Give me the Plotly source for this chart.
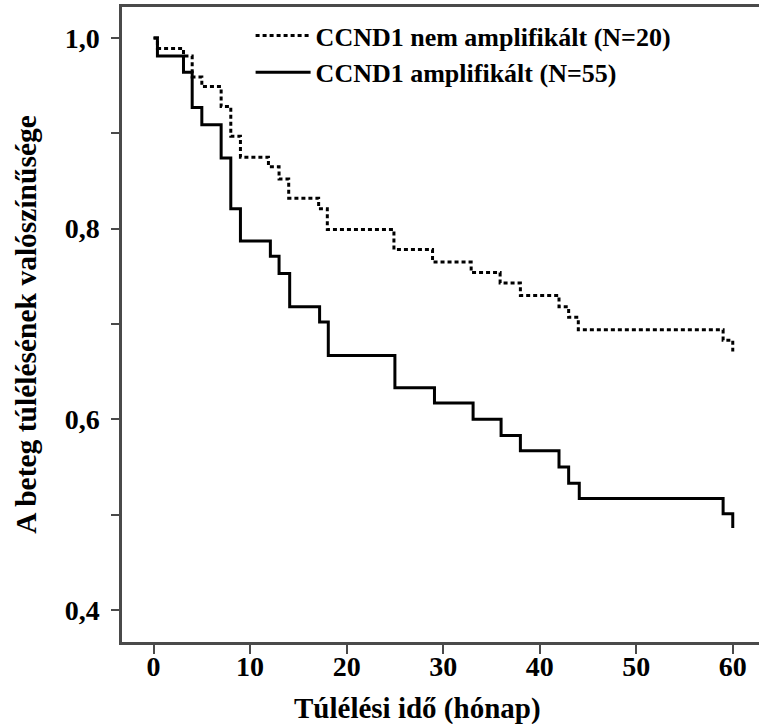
import plotly.graph_objects as go

# Kaplan-Meier steps (time in months, survival probability)
t_nem = [0, 0.4, 3.1, 4.0, 5.0, 7.0, 8.0, 9.0, 11.9, 13.0, 14.0, 17.1, 18.0, 24.9, 28.9, 32.9, 35.9, 38.0, 42.0, 43.0, 44.0, 59.0, 60.0]
s_nem = [1.0, 0.989, 0.981, 0.959, 0.949, 0.928, 0.897, 0.875, 0.865, 0.852, 0.832, 0.821, 0.799, 0.778, 0.765, 0.754, 0.743, 0.730, 0.718, 0.707, 0.694, 0.683, 0.671]

t_amp = [0, 0.4, 3.1, 4.0, 5.0, 7.0, 8.0, 9.0, 12.1, 13.0, 14.1, 17.2, 18.1, 25.0, 29.1, 33.1, 36.0, 38.0, 42.0, 43.0, 44.1, 59.0, 60.0]
s_amp = [1.0, 0.981, 0.964, 0.927, 0.909, 0.874, 0.821, 0.787, 0.771, 0.753, 0.718, 0.702, 0.667, 0.633, 0.617, 0.600, 0.583, 0.567, 0.550, 0.533, 0.517, 0.501, 0.486]

names = ["CCND1 nem amplifikált (N=20)", "CCND1 amplifikált (N=55)"]

x_ticks = [0, 10, 20, 30, 40, 50, 60]
y_ticks = [0.4, 0.5, 0.6, 0.7, 0.8, 0.9, 1.0]
y_ticktext = ["0,4", "", "0,6", "", "0,8", "", "1,0"]
x_title = "Túlélési idő (hónap)"
y_title = "A beteg túlélésének valószínűsége"

FONT = "Liberation Serif, Times New Roman, serif"
AX = "#4a4a4a"

fig = go.Figure()
fig.add_trace(go.Scatter(x=t_nem, y=s_nem, mode="lines", name=names[0],
                         line=dict(color="black", width=3, dash="4px,3px", shape="hv")))
fig.add_trace(go.Scatter(x=t_amp, y=s_amp, mode="lines", name=names[1],
                         line=dict(color="black", width=3, shape="hv")))

fig.update_layout(
    width=765, height=724,
    margin=dict(l=122, r=0, t=7, b=82),
    paper_bgcolor="white", plot_bgcolor="white",
    font=dict(family=FONT, color="black", weight="bold"),
    showlegend=True,
    legend=dict(x=0.2, y=0.992, xanchor="left", yanchor="top",
                font=dict(size=26, family=FONT, weight="bold"),
                bgcolor="rgba(0,0,0,0)", itemwidth=55, tracegroupgap=0),
    xaxis=dict(range=[-3.27, 63.34], tickvals=x_ticks, ticks="outside", ticklen=9,
               tickwidth=2, tickcolor=AX, showline=True, linecolor=AX, linewidth=2.5,
               mirror=True, showgrid=False, zeroline=False, automargin=False,
               ticklabelstandoff=-11,
               tickfont=dict(size=28, family=FONT, weight="bold")),
    yaxis=dict(range=[0.3664, 1.0325], tickvals=y_ticks, ticktext=y_ticktext, ticks="outside",
               ticklen=8, tickwidth=2, tickcolor=AX, showline=True, linecolor=AX, linewidth=2.5,
               showgrid=False, zeroline=False, ticklabelstandoff=6, automargin=False,
               tickfont=dict(size=28, family=FONT, weight="bold"),
               title=dict(text=y_title, font=dict(size=29.5, family=FONT, weight="bold"),
                          standoff=20)),
    annotations=[dict(text=x_title, xref="paper", yref="paper", x=0.4603, y=0,
                      xanchor="center", yanchor="middle", yshift=-66, showarrow=False,
                      font=dict(size=29, family=FONT, weight="bold", color="black"))],
)

fig.write_html("out.html", config={"displayModeBar": False},
               post_script="document.body.style.margin='0';document.body.style.overflow='hidden';")
